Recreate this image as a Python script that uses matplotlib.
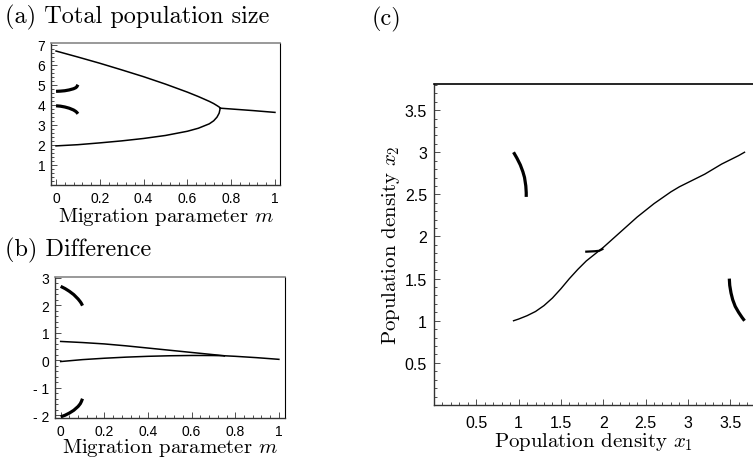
import matplotlib
matplotlib.use("Agg")
import matplotlib.pyplot as plt
import matplotlib.ticker as tkr

plt.rcParams["mathtext.fontset"] = "cm"
plt.rcParams["axes.unicode_minus"] = False

W, H = 753, 460
SERIF = "cmr10"
SANS = "Liberation Sans"

# (a) total population size vs migration parameter m
m_main = [0.0, 0.1, 0.2, 0.3, 0.4, 0.5, 0.6, 0.65, 0.7, 0.72, 0.735, 0.745, 0.75]
total_upper = [6.68, 6.38, 6.07, 5.74, 5.40, 5.03, 4.63, 4.41, 4.17, 4.06, 3.96, 3.89, 3.83]
total_lower = [1.95, 2.01, 2.1, 2.2, 2.32, 2.47, 2.68, 2.83, 3.05, 3.2, 3.38, 3.58, 3.83]
m_post = [0.75, 0.8, 0.9, 1.0]
total_post = [3.83, 3.79, 3.71, 3.62]
m_arc = [0.0, 0.02, 0.04, 0.06, 0.08, 0.09, 0.095, 0.1]
total_arc_hi = [4.67, 4.68, 4.70, 4.74, 4.80, 4.85, 4.90, 5.0]
total_arc_lo = [3.95, 3.93, 3.89, 3.83, 3.74, 3.67, 3.62, 3.55]

# (b) difference x1 - x2
diff_upper = [0.68, 0.64, 0.59, 0.52, 0.44, 0.36, 0.28, 0.24, 0.2, 0.185, 0.172, 0.164, 0.16]
diff_lower = [-0.05, 0.02, 0.07, 0.11, 0.14, 0.16, 0.17, 0.17, 0.168, 0.165, 0.162, 0.16, 0.16]
diff_post = [0.16, 0.14, 0.09, 0.03]
diff_arc_hi = [2.68, 2.6, 2.5, 2.38, 2.22, 2.12, 2.06, 1.98]
diff_arc_lo = [-2.06, -2.0, -1.92, -1.82, -1.68, -1.58, -1.5, -1.4]

# (c) phase plane x1, x2
x1_main = [0.94, 1.0, 1.1, 1.2, 1.3, 1.4, 1.5, 1.6, 1.7, 1.8, 1.9, 2.0, 2.1, 2.2,
           2.3, 2.4, 2.5, 2.6, 2.7, 2.8, 2.9, 3.0, 3.1, 3.2, 3.3, 3.4, 3.5, 3.6, 3.67]
x2_main = [1.0, 1.02, 1.06, 1.11, 1.18, 1.27, 1.38, 1.5, 1.61, 1.71, 1.79, 1.87, 1.96, 2.05,
           2.14, 2.23, 2.31, 2.39, 2.46, 2.53, 2.59, 2.64, 2.69, 2.74, 2.8, 2.86, 2.91, 2.96, 3.0]
x1_seg = [1.8, 1.9, 1.95, 1.99]
x2_seg = [1.82, 1.825, 1.83, 1.85]
x1_arc_ul = [0.94, 0.98, 1.02, 1.05, 1.07, 1.085, 1.09, 1.09]
x2_arc_ul = [3.0, 2.93, 2.85, 2.77, 2.7, 2.6, 2.52, 2.47]
x1_arc_lr = [3.49, 3.495, 3.51, 3.53, 3.56, 3.6, 3.64, 3.67]
x2_arc_lr = [1.5, 1.42, 1.33, 1.25, 1.17, 1.1, 1.04, 1.0]

m_ticks = [0, 0.2, 0.4, 0.6, 0.8, 1]
m_labels = ["0", "0.2", "0.4", "0.6", "0.8", "1"]
tot_ticks = [1, 2, 3, 4, 5, 6, 7]
diff_ticks = [-2, -1, 0, 1, 2, 3]
diff_labels = ["- 2", "- 1", "0", "1", "2", "3"]
dens_ticks = [0.5, 1, 1.5, 2, 2.5, 3, 3.5]
dens_labels = ["0.5", "1", "1.5", "2", "2.5", "3", "3.5"]


def box(left, top, right, bottom):
    return [left / W, 1 - bottom / H, (right - left) / W, (bottom - top) / H]


def style_axes(ax, top_color, right_visible, labelsize, pad=4):
    for side in ("left", "bottom"):
        ax.spines[side].set_color("#333333")
        ax.spines[side].set_linewidth(1.0)
    ax.spines["top"].set_color(top_color)
    ax.spines["top"].set_linewidth(1.2)
    ax.spines["right"].set_visible(right_visible)
    ax.spines["right"].set_color("black")
    ax.tick_params(which="both", direction="in", top=False, right=False,
                   color="#333333", width=0.6)
    ax.tick_params(which="major", length=4, labelsize=labelsize, pad=pad)
    ax.tick_params(which="minor", length=2)
    for lbl in ax.get_xticklabels() + ax.get_yticklabels():
        lbl.set_fontfamily(SANS)


fig = plt.figure(figsize=(W / 100, H / 100), dpi=100)

# panel (a)
ax = fig.add_axes(box(51, 44, 280, 186))
ax.plot(m_main, total_upper, "k", lw=1.1)
ax.plot(m_main, total_lower, "k", lw=1.1)
ax.plot(m_post, total_post, "k", lw=1.1)
ax.plot(m_arc, total_arc_hi, "k", lw=2.3, solid_capstyle="butt")
ax.plot(m_arc, total_arc_lo, "k", lw=2.3, solid_capstyle="butt")
ax.set_xlim(-0.023, 1.023)
ax.set_ylim(0, 7.08)
ax.set_xticks(m_ticks, m_labels)
ax.set_yticks(tot_ticks)
ax.xaxis.set_minor_locator(tkr.MultipleLocator(0.04))
ax.yaxis.set_minor_locator(tkr.MultipleLocator(0.2))
style_axes(ax, "#888888", True, 10)
ax.set_xlabel("Migration parameter $m$", fontfamily=SERIF, fontsize=15, labelpad=0)
fig.text(5 / W, 1 - 17 / H, "(a) Total population size", fontfamily=SERIF,
         fontsize=17.5, va="center", ha="left")

# panel (b)
ax = fig.add_axes(box(55, 278, 285, 419))
ax.plot(m_main, diff_upper, "k", lw=1.1)
ax.plot(m_main, diff_lower, "k", lw=1.1)
ax.plot(m_post, diff_post, "k", lw=1.1)
ax.plot(m_arc, diff_arc_hi, "k", lw=2.3, solid_capstyle="butt")
ax.plot(m_arc, diff_arc_lo, "k", lw=2.3, solid_capstyle="butt")
ax.set_xlim(-0.026, 1.028)
ax.set_ylim(-2.1, 3.02)
ax.set_xticks(m_ticks, m_labels)
ax.set_yticks(diff_ticks, diff_labels)
ax.xaxis.set_minor_locator(tkr.MultipleLocator(0.04))
ax.yaxis.set_minor_locator(tkr.MultipleLocator(0.2))
style_axes(ax, "#888888", True, 10)
ax.set_xlabel("Migration parameter $m$", fontfamily=SERIF, fontsize=15, labelpad=-1)
fig.text(5 / W, 1 - 250 / H, "(b) Difference", fontfamily=SERIF,
         fontsize=17.5, va="center", ha="left")

# panel (c)
ax = fig.add_axes(box(434, 85, 753, 406))
ax.plot(x1_main, x2_main, "k", lw=1.0)
ax.plot(x1_seg, x2_seg, "k", lw=1.6)
ax.plot(x1_arc_ul, x2_arc_ul, "k", lw=2.3, solid_capstyle="butt")
ax.plot(x1_arc_lr, x2_arc_lr, "k", lw=2.3, solid_capstyle="butt")
ax.set_xlim(0, 3.77)
ax.set_ylim(0, 3.81)
ax.set_xticks(dens_ticks, dens_labels)
ax.set_yticks(dens_ticks, dens_labels)
ax.xaxis.set_minor_locator(tkr.MultipleLocator(0.1))
ax.yaxis.set_minor_locator(tkr.MultipleLocator(0.1))
style_axes(ax, "black", False, 11.5, pad=5)
ax.tick_params(axis="x", which="major", pad=7)
ax.set_xlabel("Population density $x_1$", fontfamily=SERIF, fontsize=15, labelpad=0)
ax.set_ylabel("Population density $x_2$", fontfamily=SERIF, fontsize=15, labelpad=2)
fig.text(372 / W, 1 - 19 / H, "(c)", fontfamily=SERIF,
         fontsize=17.5, va="center", ha="left")

fig.savefig("out.png", dpi=100)
